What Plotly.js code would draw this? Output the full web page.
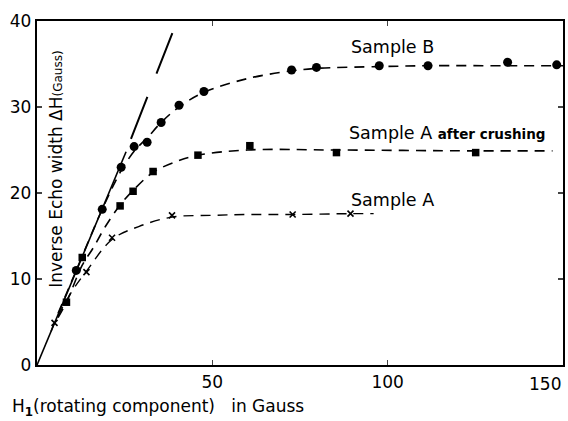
<!DOCTYPE html>
<html><head><meta charset="utf-8">
<script src="https://cdn.plot.ly/plotly-3.0.1.min.js"></script>
<style>html,body{margin:0;padding:0;background:#fff}#chart{width:568px;height:421px}</style>
</head><body><div id="chart"></div>
<script>
// Measured points
const sampleB_x = [11.2, 18.6, 24.0, 27.7, 31.4, 35.4, 40.5, 47.6, 72.6, 79.7, 97.6, 111.5, 134.2, 148.2];
const sampleB_y = [11.0, 18.1, 23.0, 25.4, 25.9, 28.2, 30.2, 31.8, 34.3, 34.6, 34.8, 34.8, 35.2, 34.9];
const crushed_x = [8.4, 12.9, 23.7, 27.4, 33.1, 45.9, 60.7, 85.4, 125.1];
const crushed_y = [7.3, 12.5, 18.5, 20.2, 22.5, 24.4, 25.5, 24.7, 24.7];
const sampleA_x = [5.0, 14.1, 21.4, 38.5, 72.9, 89.4];
const sampleA_y = [4.9, 10.8, 14.8, 17.4, 17.5, 17.6];
// Dashed curves
const curveB_x = [6, 11.2, 18.6, 24.0, 28, 31.4, 35.4, 40.5, 47.6, 60, 72.6, 80, 98, 112, 134, 150];
const curveB_y = [6, 11.0, 18.1, 22.6, 25.0, 26.4, 28.2, 30.0, 31.7, 33.3, 34.2, 34.5, 34.7, 34.8, 34.8, 34.8];
const curveC_x = [6, 8.4, 12.9, 16, 19.5, 23.7, 27.4, 33.1, 40, 45.9, 60, 85, 125, 147];
const curveC_y = [5.5, 7.3, 11.6, 13.6, 16.1, 18.6, 20.3, 22.4, 23.7, 24.4, 25.0, 25.0, 24.9, 24.9];
const curveA_x = [4, 5.0, 10, 14.1, 21.4, 29, 38.5, 50, 60, 72.9, 89.4, 96];
const curveA_y = [3.9, 4.9, 8.6, 10.9, 14.6, 16.1, 17.2, 17.4, 17.5, 17.5, 17.6, 17.6];
// Initial slope line
const slopeSolid_x = [0, 25.4];
const slopeSolid_y = [0, 24.8];
const slopeDash_x = [26.8, 38.6];
const slopeDash_y = [26.3, 38.6];
// Ticks
const xTicks = [50, 100, 150];
const xTickText = ['50', '100', ''];
const yTicks = [0, 10, 20, 30, 40];

const dashShort = '10px,7px';
const traces = [
  {x: slopeSolid_x, y: slopeSolid_y, mode: 'lines', line: {color: '#000', width: 1.6}},
  {x: slopeDash_x, y: slopeDash_y, mode: 'lines', line: {color: '#000', width: 2, dash: '45px,25px'}},
  {x: curveB_x, y: curveB_y, mode: 'lines', line: {color: '#000', width: 1.6, dash: dashShort, shape: 'spline'}},
  {x: curveC_x, y: curveC_y, mode: 'lines', line: {color: '#000', width: 1.6, dash: dashShort, shape: 'spline'}},
  {x: curveA_x, y: curveA_y, mode: 'lines', line: {color: '#000', width: 1.4, dash: dashShort, shape: 'spline'}},
  {x: sampleB_x, y: sampleB_y, mode: 'markers', marker: {symbol: 'circle', size: 9, color: '#000'}},
  {x: crushed_x, y: crushed_y, mode: 'markers', marker: {symbol: 'square', size: 7.5, color: '#000'}},
  {x: sampleA_x, y: sampleA_y, mode: 'markers', marker: {symbol: 'x-thin', size: 6, color: '#000', line: {color: '#000', width: 1.6}}}
];
const F = 'DejaVu Sans, Lato, sans-serif';
const layout = {
  width: 568, height: 421,
  margin: {l: 37, r: 5, t: 21, b: 56},
  paper_bgcolor: '#fff', plot_bgcolor: '#fff',
  showlegend: false,
  xaxis: {range: [0, 150], tickvals: xTicks, ticktext: xTickText, ticks: 'inside', ticklen: 5, tickwidth: 1.2,
    showgrid: false, zeroline: false, showline: true, linewidth: 2.2, linecolor: '#000', mirror: 'ticks',
    tickfont: {family: F, size: 17, color: '#000'}},
  yaxis: {range: [0, 40], tickvals: yTicks, ticktext: yTicks.map(String), ticks: 'inside', ticklen: 5, tickwidth: 1.2,
    showgrid: false, zeroline: false, showline: true, linewidth: 2.2, linecolor: '#000', mirror: 'ticks',
    tickfont: {family: F, size: 17, color: '#000'}},
  annotations: [
    {xref: 'x', yref: 'paper', x: 150, y: -0.055, xanchor: 'right', yanchor: 'middle', showarrow: false,
     text: String(xTicks[2]), font: {family: F, size: 17, color: '#000'}},
    {xref: 'paper', yref: 'paper', x: 0.036, y: 0.57, xanchor: 'center', yanchor: 'middle', textangle: -90, showarrow: false,
     text: 'Inverse Echo width ΔH<span style="font-size:12px">(Gauss)</span>', font: {family: F, size: 17, color: '#000'}},
    {xref: 'paper', yref: 'paper', x: -0.052, y: -0.123, xanchor: 'left', yanchor: 'middle', showarrow: false,
     text: 'H<sub><b>1</b></sub>(rotating component)&nbsp;&nbsp;&nbsp;in Gauss', font: {family: F, size: 17, color: '#000'}},
    {xref: 'x', yref: 'y', x: 89, y: 37.0, xanchor: 'left', yanchor: 'middle', showarrow: false,
     text: 'Sample B', font: {family: F, size: 17.5, color: '#000'}},
    {xref: 'x', yref: 'y', x: 88.5, y: 27.0, xanchor: 'left', yanchor: 'middle', showarrow: false,
     text: 'Sample A <b><span style="font-size:13.5px">after crushing</span></b>', font: {family: F, size: 17.5, color: '#000'}},
    {xref: 'x', yref: 'y', x: 89, y: 19.2, xanchor: 'left', yanchor: 'middle', showarrow: false,
     text: 'Sample A', font: {family: F, size: 17.5, color: '#000'}}
  ]
};
Plotly.newPlot('chart', traces, layout, {staticPlot: true, displayModeBar: false});
</script>
</body></html>
